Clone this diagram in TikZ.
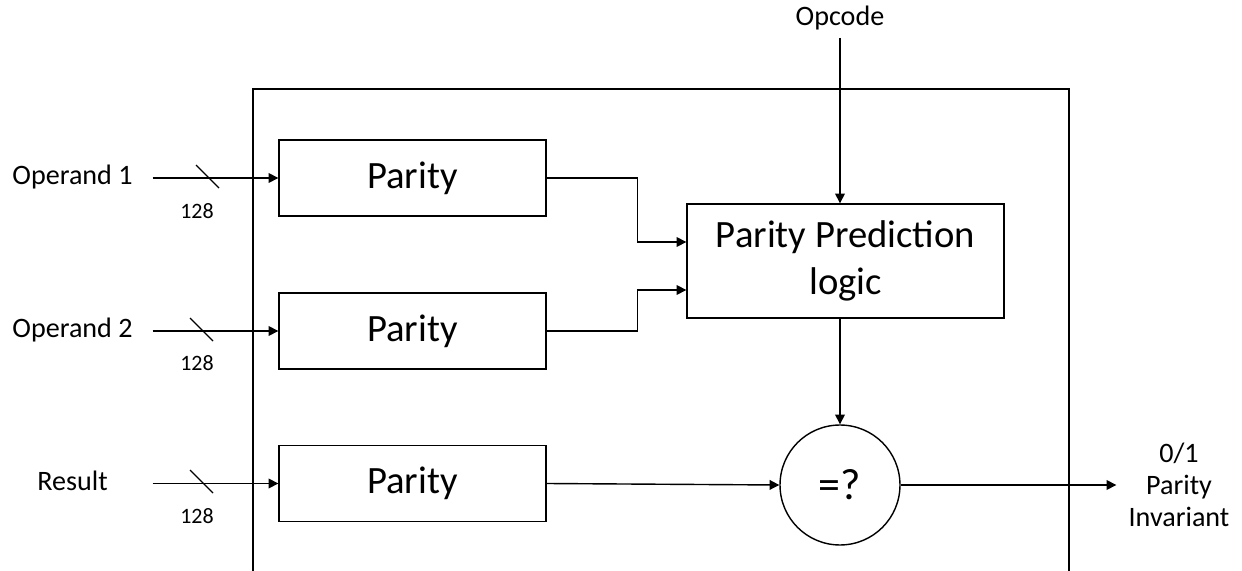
\documentclass[tikz,border=0pt]{standalone}
\usepackage{fontspec}
\setmainfont{Carlito}
\usetikzlibrary{arrows.meta}

\begin{document}
\begin{tikzpicture}[x=0.02cm, y=-0.02cm, line width=0.8pt,
    >={Triangle[length=5.5pt,width=5.5pt]},
    parbox/.style={draw, minimum width=5.34cm, minimum height=1.52cm, inner sep=0pt, font=\fontsize{22}{26}\selectfont},
    inlabel/.style={minimum width=3.18cm, inner sep=0pt, text height=11pt, text depth=3.5pt, font=\fontsize{16}{19}\selectfont},
    buswidth/.style={inner sep=0pt, font=\fontsize{12.5}{15}\selectfont}]
    \useasboundingbox (0,0) rectangle (1242,571);

    % Enclosing unit (bottom edge cut off)
    \draw (253,571) -- (253,89) -- (1069,89) -- (1069,571);

    % Parity generators
    \node[parbox] (par1) at (412.5,178) {Parity};
    \node[parbox] (par2) at (412.5,331) {Parity};
    \node[parbox] (par3) at (412.5,483.5) {Parity};

    % Prediction and compare
    \node[draw, minimum width=6.34cm, minimum height=2.28cm, inner sep=0pt, align=center,
          font=\fontsize{22}{26.6}\selectfont] (pred) at (845.5,261) {Parity Prediction\\logic};
    \node[draw, circle, minimum size=2.4cm, inner sep=0pt, font=\fontsize{25}{30}\selectfont] (cmp) at (840,485) {=?};

    % Inputs: Operand 1, Operand 2, Result
    \node[inlabel] (op1) at (72.5,178) {Operand 1};
    \node[inlabel] (op2) at (72.5,331) {Operand 2};
    \node[inlabel] (res) at (72.5,483.5) {Result};
    \draw[->] (op1.east) -- (par1.west);
    \draw[->] (op2.east) -- (par2.west);
    \draw[->] (res.east) -- (par3.west);
    \draw (196,165) -- (219,188);
    \draw (190,318) -- (213,341);
    \draw (190,470) -- (213,493);
    \node[buswidth] (w1) at (197,211) {128};
    \node[buswidth] (w2) at (197,363) {128};
    \node[buswidth] (w3) at (197,516) {128};

    % Opcode
    \node[anchor=south, inner sep=0.14cm, font=\fontsize{16}{19}\selectfont] (opc) at (840,38) {Opcode};
    \draw[->] (opc) -- (opc |- pred.north);

    % Parity bits into prediction logic
    \draw[->] (par1.east) -- ++(91,0) |- ([yshift=0.38cm]pred.west);
    \draw[->] (par2.east) -- ++(91,0) |- ([yshift=-0.58cm]pred.west);

    % Compare
    \draw[->] (cmp |- pred.south) -- (cmp.north);
    \draw[->] (par3.east) -- (cmp.west);

    % Output
    \node[minimum width=2.48cm, inner sep=0pt, align=center, font=\fontsize{16}{18.4}\selectfont] (out) at (1179,485) {0/1\\Parity\\Invariant};
    \draw[->] (cmp.east) -- (out.west);
\end{tikzpicture}
\end{document}
